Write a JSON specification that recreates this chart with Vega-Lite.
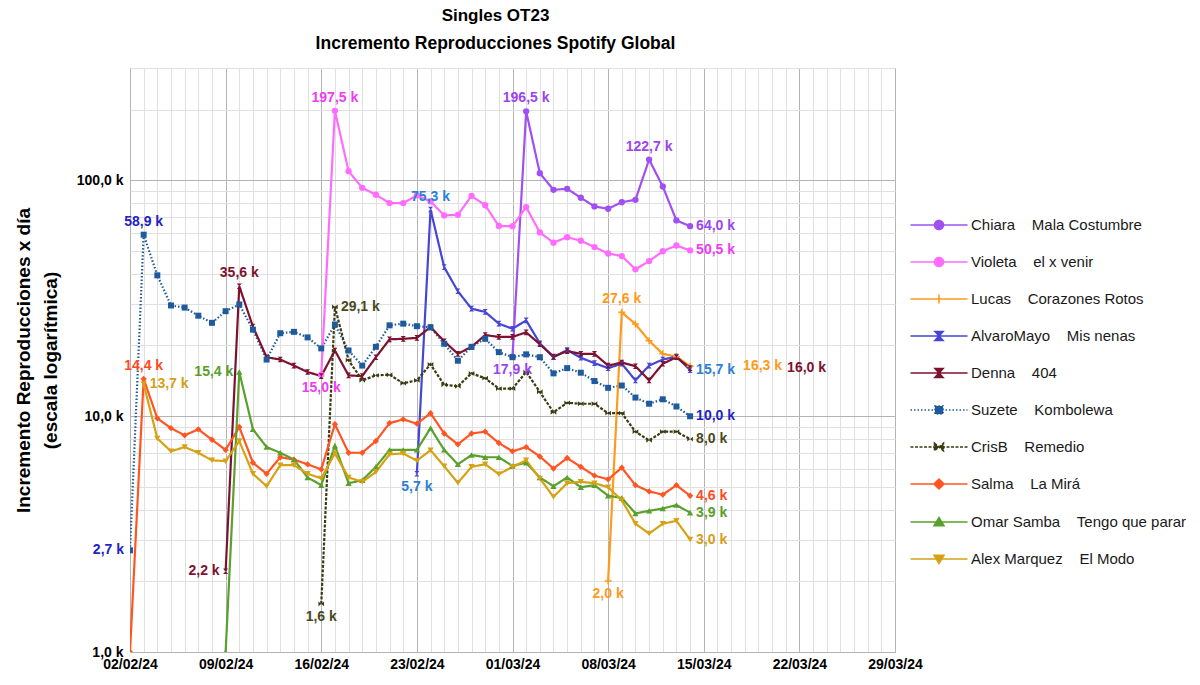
{
  "$schema": "https://vega.github.io/schema/vega-lite/v6.json",
  "width": 765,
  "height": 584,
  "autosize": {"type": "none"},
  "padding": {"left": 130, "top": 68, "right": 305, "bottom": 33},
  "background": "white",
  "config": {"view": {"stroke": "#b3b3b3"}},
  "title": {
    "text": "Singles OT23",
    "subtitle": "Incremento Reproducciones Spotify Global",
    "font": "Liberation Sans", "fontSize": 17, "fontWeight": "bold", "color": "#000000",
    "subtitleFont": "Liberation Sans", "subtitleFontSize": 17.5, "subtitleFontWeight": "bold", "subtitleColor": "#000000",
    "anchor": "middle", "dx": -17, "offset": 8, "subtitlePadding": 10
  },
  "datasets": {
    "lines": [
      {"date":"2024-02-02","series":"Suzete","value":2.7},{"date":"2024-02-03","series":"Suzete","value":58.9},{"date":"2024-02-04","series":"Suzete","value":39.6},{"date":"2024-02-05","series":"Suzete","value":29.5},{"date":"2024-02-06","series":"Suzete","value":28.9},{"date":"2024-02-07","series":"Suzete","value":26.7},{"date":"2024-02-08","series":"Suzete","value":24.9},{"date":"2024-02-09","series":"Suzete","value":27.9},{"date":"2024-02-10","series":"Suzete","value":29.8},{"date":"2024-02-11","series":"Suzete","value":23.3},{"date":"2024-02-12","series":"Suzete","value":17.4},{"date":"2024-02-13","series":"Suzete","value":22.5},{"date":"2024-02-14","series":"Suzete","value":22.8},{"date":"2024-02-15","series":"Suzete","value":21.6},{"date":"2024-02-16","series":"Suzete","value":19.4},{"date":"2024-02-17","series":"Suzete","value":24.5},{"date":"2024-02-18","series":"Suzete","value":19.0},{"date":"2024-02-19","series":"Suzete","value":16.4},{"date":"2024-02-20","series":"Suzete","value":19.7},{"date":"2024-02-21","series":"Suzete","value":24.3},{"date":"2024-02-22","series":"Suzete","value":24.7},{"date":"2024-02-23","series":"Suzete","value":24.1},{"date":"2024-02-24","series":"Suzete","value":23.8},{"date":"2024-02-25","series":"Suzete","value":20.3},{"date":"2024-02-26","series":"Suzete","value":17.2},{"date":"2024-02-27","series":"Suzete","value":19.7},{"date":"2024-02-28","series":"Suzete","value":21.3},{"date":"2024-02-29","series":"Suzete","value":18.7},{"date":"2024-03-01","series":"Suzete","value":17.8},{"date":"2024-03-02","series":"Suzete","value":18.3},{"date":"2024-03-03","series":"Suzete","value":17.8},{"date":"2024-03-04","series":"Suzete","value":15.2},{"date":"2024-03-05","series":"Suzete","value":16.0},{"date":"2024-03-06","series":"Suzete","value":15.3},{"date":"2024-03-07","series":"Suzete","value":14.1},{"date":"2024-03-08","series":"Suzete","value":13.2},{"date":"2024-03-09","series":"Suzete","value":13.5},{"date":"2024-03-10","series":"Suzete","value":12.0},{"date":"2024-03-11","series":"Suzete","value":11.3},{"date":"2024-03-12","series":"Suzete","value":11.8},{"date":"2024-03-13","series":"Suzete","value":11.0},{"date":"2024-03-14","series":"Suzete","value":10.0},
      {"date":"2024-03-01","series":"Chiara","value":17.9},{"date":"2024-03-02","series":"Chiara","value":196.5},{"date":"2024-03-03","series":"Chiara","value":107.4},{"date":"2024-03-04","series":"Chiara","value":91.3},{"date":"2024-03-05","series":"Chiara","value":92.2},{"date":"2024-03-06","series":"Chiara","value":84.5},{"date":"2024-03-07","series":"Chiara","value":77.6},{"date":"2024-03-08","series":"Chiara","value":75.9},{"date":"2024-03-09","series":"Chiara","value":80.9},{"date":"2024-03-10","series":"Chiara","value":82.8},{"date":"2024-03-11","series":"Chiara","value":122.7},{"date":"2024-03-12","series":"Chiara","value":94.3},{"date":"2024-03-13","series":"Chiara","value":67.7},{"date":"2024-03-14","series":"Chiara","value":64.0},
      {"date":"2024-02-16","series":"Violeta","value":15.0},{"date":"2024-02-17","series":"Violeta","value":197.5},{"date":"2024-02-18","series":"Violeta","value":109.5},{"date":"2024-02-19","series":"Violeta","value":93.1},{"date":"2024-02-20","series":"Violeta","value":87.0},{"date":"2024-02-21","series":"Violeta","value":80.2},{"date":"2024-02-22","series":"Violeta","value":80.2},{"date":"2024-02-23","series":"Violeta","value":86.4},{"date":"2024-02-24","series":"Violeta","value":81.5},{"date":"2024-02-25","series":"Violeta","value":71.1},{"date":"2024-02-26","series":"Violeta","value":71.5},{"date":"2024-02-27","series":"Violeta","value":86.0},{"date":"2024-02-28","series":"Violeta","value":78.5},{"date":"2024-02-29","series":"Violeta","value":64.1},{"date":"2024-03-01","series":"Violeta","value":64.0},{"date":"2024-03-02","series":"Violeta","value":77.1},{"date":"2024-03-03","series":"Violeta","value":60.2},{"date":"2024-03-04","series":"Violeta","value":54.5},{"date":"2024-03-05","series":"Violeta","value":57.5},{"date":"2024-03-06","series":"Violeta","value":55.5},{"date":"2024-03-07","series":"Violeta","value":52.2},{"date":"2024-03-08","series":"Violeta","value":49.0},{"date":"2024-03-09","series":"Violeta","value":47.8},{"date":"2024-03-10","series":"Violeta","value":42.0},{"date":"2024-03-11","series":"Violeta","value":45.5},{"date":"2024-03-12","series":"Violeta","value":50.1},{"date":"2024-03-13","series":"Violeta","value":53.0},{"date":"2024-03-14","series":"Violeta","value":50.5},
      {"date":"2024-03-08","series":"Lucas","value":2.0},{"date":"2024-03-09","series":"Lucas","value":27.6},{"date":"2024-03-10","series":"Lucas","value":24.6},{"date":"2024-03-11","series":"Lucas","value":20.9},{"date":"2024-03-12","series":"Lucas","value":18.4},{"date":"2024-03-13","series":"Lucas","value":17.9},{"date":"2024-03-14","series":"Lucas","value":16.3},
      {"date":"2024-02-23","series":"AlvaroMayo","value":5.7},{"date":"2024-02-24","series":"AlvaroMayo","value":75.3},{"date":"2024-02-25","series":"AlvaroMayo","value":42.9},{"date":"2024-02-26","series":"AlvaroMayo","value":33.9},{"date":"2024-02-27","series":"AlvaroMayo","value":28.6},{"date":"2024-02-28","series":"AlvaroMayo","value":27.7},{"date":"2024-02-29","series":"AlvaroMayo","value":24.7},{"date":"2024-03-01","series":"AlvaroMayo","value":23.5},{"date":"2024-03-02","series":"AlvaroMayo","value":25.5},{"date":"2024-03-03","series":"AlvaroMayo","value":20.4},{"date":"2024-03-04","series":"AlvaroMayo","value":17.8},{"date":"2024-03-05","series":"AlvaroMayo","value":19.1},{"date":"2024-03-06","series":"AlvaroMayo","value":17.7},{"date":"2024-03-07","series":"AlvaroMayo","value":16.8},{"date":"2024-03-08","series":"AlvaroMayo","value":16.0},{"date":"2024-03-09","series":"AlvaroMayo","value":16.7},{"date":"2024-03-10","series":"AlvaroMayo","value":14.2},{"date":"2024-03-11","series":"AlvaroMayo","value":16.4},{"date":"2024-03-12","series":"AlvaroMayo","value":17.4},{"date":"2024-03-13","series":"AlvaroMayo","value":17.9},{"date":"2024-03-14","series":"AlvaroMayo","value":15.7},
      {"date":"2024-02-09","series":"Denna","value":2.2},{"date":"2024-02-10","series":"Denna","value":35.6},{"date":"2024-02-11","series":"Denna","value":24.0},{"date":"2024-02-12","series":"Denna","value":17.8},{"date":"2024-02-13","series":"Denna","value":17.4},{"date":"2024-02-14","series":"Denna","value":16.4},{"date":"2024-02-15","series":"Denna","value":15.4},{"date":"2024-02-16","series":"Denna","value":14.8},{"date":"2024-02-17","series":"Denna","value":19.0},{"date":"2024-02-18","series":"Denna","value":14.9},{"date":"2024-02-19","series":"Denna","value":14.8},{"date":"2024-02-20","series":"Denna","value":17.8},{"date":"2024-02-21","series":"Denna","value":21.2},{"date":"2024-02-22","series":"Denna","value":21.3},{"date":"2024-02-23","series":"Denna","value":21.5},{"date":"2024-02-24","series":"Denna","value":23.9},{"date":"2024-02-25","series":"Denna","value":20.8},{"date":"2024-02-26","series":"Denna","value":18.4},{"date":"2024-02-27","series":"Denna","value":19.7},{"date":"2024-02-28","series":"Denna","value":22.1},{"date":"2024-02-29","series":"Denna","value":21.7},{"date":"2024-03-01","series":"Denna","value":21.7},{"date":"2024-03-02","series":"Denna","value":22.7},{"date":"2024-03-03","series":"Denna","value":20.2},{"date":"2024-03-04","series":"Denna","value":17.9},{"date":"2024-03-05","series":"Denna","value":18.9},{"date":"2024-03-06","series":"Denna","value":18.4},{"date":"2024-03-07","series":"Denna","value":18.4},{"date":"2024-03-08","series":"Denna","value":16.4},{"date":"2024-03-09","series":"Denna","value":16.9},{"date":"2024-03-10","series":"Denna","value":16.3},{"date":"2024-03-11","series":"Denna","value":14.2},{"date":"2024-03-12","series":"Denna","value":16.7},{"date":"2024-03-13","series":"Denna","value":17.8},{"date":"2024-03-14","series":"Denna","value":16.0},
      {"date":"2024-02-16","series":"CrisB","value":1.6},{"date":"2024-02-17","series":"CrisB","value":29.1},{"date":"2024-02-18","series":"CrisB","value":17.3},{"date":"2024-02-19","series":"CrisB","value":14.2},{"date":"2024-02-20","series":"CrisB","value":14.9},{"date":"2024-02-21","series":"CrisB","value":15.0},{"date":"2024-02-22","series":"CrisB","value":13.8},{"date":"2024-02-23","series":"CrisB","value":14.2},{"date":"2024-02-24","series":"CrisB","value":16.6},{"date":"2024-02-25","series":"CrisB","value":13.6},{"date":"2024-02-26","series":"CrisB","value":13.4},{"date":"2024-02-27","series":"CrisB","value":15.2},{"date":"2024-02-28","series":"CrisB","value":14.5},{"date":"2024-02-29","series":"CrisB","value":13.1},{"date":"2024-03-01","series":"CrisB","value":13.1},{"date":"2024-03-02","series":"CrisB","value":15.4},{"date":"2024-03-03","series":"CrisB","value":12.7},{"date":"2024-03-04","series":"CrisB","value":10.4},{"date":"2024-03-05","series":"CrisB","value":11.4},{"date":"2024-03-06","series":"CrisB","value":11.3},{"date":"2024-03-07","series":"CrisB","value":11.3},{"date":"2024-03-08","series":"CrisB","value":10.3},{"date":"2024-03-09","series":"CrisB","value":10.3},{"date":"2024-03-10","series":"CrisB","value":8.6},{"date":"2024-03-11","series":"CrisB","value":7.9},{"date":"2024-03-12","series":"CrisB","value":8.6},{"date":"2024-03-13","series":"CrisB","value":8.6},{"date":"2024-03-14","series":"CrisB","value":8.0},
      {"date":"2024-02-02","series":"Salma","value":1.0},{"date":"2024-02-03","series":"Salma","value":14.4},{"date":"2024-02-04","series":"Salma","value":9.8},{"date":"2024-02-05","series":"Salma","value":8.9},{"date":"2024-02-06","series":"Salma","value":8.3},{"date":"2024-02-07","series":"Salma","value":8.8},{"date":"2024-02-08","series":"Salma","value":7.95},{"date":"2024-02-09","series":"Salma","value":7.2},{"date":"2024-02-10","series":"Salma","value":9.0},{"date":"2024-02-11","series":"Salma","value":6.35},{"date":"2024-02-12","series":"Salma","value":5.7},{"date":"2024-02-13","series":"Salma","value":6.7},{"date":"2024-02-14","series":"Salma","value":6.55},{"date":"2024-02-15","series":"Salma","value":6.25},{"date":"2024-02-16","series":"Salma","value":5.95},{"date":"2024-02-17","series":"Salma","value":9.25},{"date":"2024-02-18","series":"Salma","value":7.0},{"date":"2024-02-19","series":"Salma","value":7.0},{"date":"2024-02-20","series":"Salma","value":7.85},{"date":"2024-02-21","series":"Salma","value":9.35},{"date":"2024-02-22","series":"Salma","value":9.7},{"date":"2024-02-23","series":"Salma","value":9.3},{"date":"2024-02-24","series":"Salma","value":10.3},{"date":"2024-02-25","series":"Salma","value":8.45},{"date":"2024-02-26","series":"Salma","value":7.6},{"date":"2024-02-27","series":"Salma","value":8.45},{"date":"2024-02-28","series":"Salma","value":8.6},{"date":"2024-02-29","series":"Salma","value":7.7},{"date":"2024-03-01","series":"Salma","value":7.1},{"date":"2024-03-02","series":"Salma","value":7.4},{"date":"2024-03-03","series":"Salma","value":6.75},{"date":"2024-03-04","series":"Salma","value":6.0},{"date":"2024-03-05","series":"Salma","value":6.65},{"date":"2024-03-06","series":"Salma","value":6.1},{"date":"2024-03-07","series":"Salma","value":5.6},{"date":"2024-03-08","series":"Salma","value":5.4},{"date":"2024-03-09","series":"Salma","value":6.05},{"date":"2024-03-10","series":"Salma","value":5.1},{"date":"2024-03-11","series":"Salma","value":4.8},{"date":"2024-03-12","series":"Salma","value":4.65},{"date":"2024-03-13","series":"Salma","value":5.1},{"date":"2024-03-14","series":"Salma","value":4.6},
      {"date":"2024-02-09","series":"Omar Samba","value":1.0},{"date":"2024-02-10","series":"Omar Samba","value":15.4},{"date":"2024-02-11","series":"Omar Samba","value":8.8},{"date":"2024-02-12","series":"Omar Samba","value":7.4},{"date":"2024-02-13","series":"Omar Samba","value":7.0},{"date":"2024-02-14","series":"Omar Samba","value":6.55},{"date":"2024-02-15","series":"Omar Samba","value":5.5},{"date":"2024-02-16","series":"Omar Samba","value":5.1},{"date":"2024-02-17","series":"Omar Samba","value":7.5},{"date":"2024-02-18","series":"Omar Samba","value":5.2},{"date":"2024-02-19","series":"Omar Samba","value":5.35},{"date":"2024-02-20","series":"Omar Samba","value":6.1},{"date":"2024-02-21","series":"Omar Samba","value":7.2},{"date":"2024-02-22","series":"Omar Samba","value":7.2},{"date":"2024-02-23","series":"Omar Samba","value":7.2},{"date":"2024-02-24","series":"Omar Samba","value":8.9},{"date":"2024-02-25","series":"Omar Samba","value":7.2},{"date":"2024-02-26","series":"Omar Samba","value":6.25},{"date":"2024-02-27","series":"Omar Samba","value":6.85},{"date":"2024-02-28","series":"Omar Samba","value":6.7},{"date":"2024-02-29","series":"Omar Samba","value":6.7},{"date":"2024-03-01","series":"Omar Samba","value":6.15},{"date":"2024-03-02","series":"Omar Samba","value":6.35},{"date":"2024-03-03","series":"Omar Samba","value":5.5},{"date":"2024-03-04","series":"Omar Samba","value":5.05},{"date":"2024-03-05","series":"Omar Samba","value":5.5},{"date":"2024-03-06","series":"Omar Samba","value":5.0},{"date":"2024-03-07","series":"Omar Samba","value":5.1},{"date":"2024-03-08","series":"Omar Samba","value":4.6},{"date":"2024-03-09","series":"Omar Samba","value":4.5},{"date":"2024-03-10","series":"Omar Samba","value":3.87},{"date":"2024-03-11","series":"Omar Samba","value":3.97},{"date":"2024-03-12","series":"Omar Samba","value":4.06},{"date":"2024-03-13","series":"Omar Samba","value":4.2},{"date":"2024-03-14","series":"Omar Samba","value":3.9},
      {"date":"2024-02-03","series":"Alex Marquez","value":13.7},{"date":"2024-02-04","series":"Alex Marquez","value":8.05},{"date":"2024-02-05","series":"Alex Marquez","value":7.1},{"date":"2024-02-06","series":"Alex Marquez","value":7.4},{"date":"2024-02-07","series":"Alex Marquez","value":7.0},{"date":"2024-02-08","series":"Alex Marquez","value":6.5},{"date":"2024-02-09","series":"Alex Marquez","value":6.45},{"date":"2024-02-10","series":"Alex Marquez","value":7.85},{"date":"2024-02-11","series":"Alex Marquez","value":5.7},{"date":"2024-02-12","series":"Alex Marquez","value":5.05},{"date":"2024-02-13","series":"Alex Marquez","value":6.2},{"date":"2024-02-14","series":"Alex Marquez","value":6.2},{"date":"2024-02-15","series":"Alex Marquez","value":5.7},{"date":"2024-02-16","series":"Alex Marquez","value":5.45},{"date":"2024-02-17","series":"Alex Marquez","value":6.95},{"date":"2024-02-18","series":"Alex Marquez","value":5.5},{"date":"2024-02-19","series":"Alex Marquez","value":5.27},{"date":"2024-02-20","series":"Alex Marquez","value":5.8},{"date":"2024-02-21","series":"Alex Marquez","value":6.9},{"date":"2024-02-22","series":"Alex Marquez","value":6.95},{"date":"2024-02-23","series":"Alex Marquez","value":6.48},{"date":"2024-02-24","series":"Alex Marquez","value":7.18},{"date":"2024-02-25","series":"Alex Marquez","value":6.14},{"date":"2024-02-26","series":"Alex Marquez","value":5.22},{"date":"2024-02-27","series":"Alex Marquez","value":6.1},{"date":"2024-02-28","series":"Alex Marquez","value":6.26},{"date":"2024-02-29","series":"Alex Marquez","value":5.68},{"date":"2024-03-01","series":"Alex Marquez","value":6.1},{"date":"2024-03-02","series":"Alex Marquez","value":6.5},{"date":"2024-03-03","series":"Alex Marquez","value":5.45},{"date":"2024-03-04","series":"Alex Marquez","value":4.55},{"date":"2024-03-05","series":"Alex Marquez","value":5.2},{"date":"2024-03-06","series":"Alex Marquez","value":5.27},{"date":"2024-03-07","series":"Alex Marquez","value":5.2},{"date":"2024-03-08","series":"Alex Marquez","value":5.0},{"date":"2024-03-09","series":"Alex Marquez","value":4.4},{"date":"2024-03-10","series":"Alex Marquez","value":3.5},{"date":"2024-03-11","series":"Alex Marquez","value":3.18},{"date":"2024-03-12","series":"Alex Marquez","value":3.5},{"date":"2024-03-13","series":"Alex Marquez","value":3.6},{"date":"2024-03-14","series":"Alex Marquez","value":3.0}
    ],
    "above": [
      {"date":"2024-02-03","series":"Suzete","value":58.9},{"date":"2024-02-03","series":"Salma","value":14.4},{"date":"2024-02-10","series":"Denna","value":35.6},{"date":"2024-02-17","series":"Violeta","value":197.5},{"date":"2024-02-24","series":"AlvaroMayo","value":75.3},{"date":"2024-03-02","series":"Chiara","value":196.5},{"date":"2024-03-11","series":"Chiara","value":122.7},{"date":"2024-03-09","series":"Lucas","value":27.6}
    ],
    "below": [
      {"date":"2024-02-16","series":"Violeta","value":15.0},{"date":"2024-02-16","series":"CrisB","value":1.6},{"date":"2024-02-23","series":"AlvaroMayo","value":5.7},{"date":"2024-03-01","series":"Chiara","value":17.9},{"date":"2024-03-08","series":"Lucas","value":2.0}
    ],
    "left": [
      {"date":"2024-02-02","series":"Suzete","value":2.7},{"date":"2024-02-09","series":"Denna","value":2.2},{"date":"2024-02-10","series":"Omar Samba","value":15.4}
    ],
    "right": [
      {"date":"2024-02-03","series":"Alex Marquez","value":13.7},{"date":"2024-02-17","series":"CrisB","value":29.1},{"date":"2024-03-14","series":"Chiara","value":64.0},{"date":"2024-03-14","series":"Violeta","value":50.5},{"date":"2024-03-14","series":"AlvaroMayo","value":15.7},{"date":"2024-03-14","series":"Suzete","value":10.0},{"date":"2024-03-14","series":"CrisB","value":8.0},{"date":"2024-03-14","series":"Salma","value":4.6},{"date":"2024-03-14","series":"Omar Samba","value":3.9},{"date":"2024-03-14","series":"Alex Marquez","value":3.0}
    ],
    "right2": [{"date":"2024-03-14","series":"Lucas","value":16.3}],
    "right3": [{"date":"2024-03-14","series":"Denna","value":16.0}]
  },
  "encoding": {
    "x": {
      "field": "date", "type": "temporal",
      "scale": {"type": "utc", "nice": false, "domain": [{"year": 2024, "month": 2, "date": 2, "utc": true}, {"year": 2024, "month": 3, "date": 29, "utc": true}]},
      "axis": {
        "title": null,
        "tickCount": {"interval": "day", "step": 1},
        "labelExpr": "((datum.value - 1706832000000) / 86400000) % 7 == 0 ? utcFormat(datum.value, '%d/%m/%y') : ''",
        "grid": true,
        "gridColor": {"condition": {"test": "((datum.value - 1706832000000) / 86400000) % 7 == 0", "value": "#b4b4b4"}, "value": "#e0e0e0"},
        "ticks": false, "domain": false,
        "labelFont": "Liberation Sans", "labelFontSize": 14, "labelFontWeight": "bold", "labelColor": "#000000",
        "labelPadding": 5, "labelOverlap": false, "labelFlush": false, "labelBound": false
      }
    },
    "y": {
      "field": "value", "type": "quantitative",
      "scale": {"type": "log", "domain": [1, 300], "nice": false},
      "axis": {
        "title": ["Incremento Reproducciones x día", "(escala logarítmica)"],
        "values": [1,2,3,4,5,6,7,8,9,10,20,30,40,50,60,70,80,90,100,200,300],
        "labelExpr": "datum.value == 1 || datum.value == 10 || datum.value == 100 ? replace(format(datum.value, '.1f'), '.', ',') + ' k' : ''",
        "grid": true,
        "gridColor": {"condition": {"test": "datum.value == 1 || datum.value == 10 || datum.value == 100", "value": "#b4b4b4"}, "value": "#e0e0e0"},
        "ticks": false, "domain": false,
        "labelFont": "Liberation Sans", "labelFontSize": 14, "labelFontWeight": "bold", "labelColor": "#000000", "labelPadding": 7, "labelOverlap": false,
        "titleFont": "Liberation Sans", "titleFontSize": 19, "titleFontWeight": "bold", "titleColor": "#000000", "titlePadding": 16, "titleLineHeight": 27
      }
    }
  },
  "layer": [
    {
      "data": {"name": "lines"},
      "mark": {"type": "line", "strokeWidth": 2.2, "clip": true},
      "encoding": {
        "color": {
          "field": "series", "type": "nominal",
          "scale": {
            "domain": ["Chiara", "Violeta", "Lucas", "AlvaroMayo", "Denna", "Suzete", "CrisB", "Salma", "Omar Samba", "Alex Marquez"],
            "range": ["#a050f0", "#ff6cff", "#ff9a1a", "#4646d6", "#7d1230", "#1f5a9c", "#3b3b12", "#ff5522", "#5aa02c", "#d6a214"]
          },
          "legend": {
            "title": null, "orient": "none", "legendX": 793, "legendY": 141, "direction": "vertical", "columns": 1,
            "padding": 0, "symbolSize": 900, "symbolStrokeWidth": 1.6, "labelOffset": 16, "rowPadding": 13,
            "labelFont": "Liberation Sans", "labelFontSize": 15, "labelColor": "#1a1a1a", "labelLimit": 400,
            "labelExpr": "{'Chiara': 'Chiara\u00a0\u00a0\u00a0\u00a0Mala Costumbre', 'Violeta': 'Violeta\u00a0\u00a0\u00a0\u00a0el x venir', 'Lucas': 'Lucas\u00a0\u00a0\u00a0\u00a0Corazones Rotos', 'AlvaroMayo': 'AlvaroMayo\u00a0\u00a0\u00a0\u00a0Mis nenas', 'Denna': 'Denna\u00a0\u00a0\u00a0\u00a0404', 'Suzete': 'Suzete\u00a0\u00a0\u00a0\u00a0Kombolewa', 'CrisB': 'CrisB\u00a0\u00a0\u00a0\u00a0Remedio', 'Salma': 'Salma\u00a0\u00a0\u00a0\u00a0La Mirá', 'Omar Samba': 'Omar Samba\u00a0\u00a0\u00a0\u00a0Tengo que parar', 'Alex Marquez': 'Alex Marquez\u00a0\u00a0\u00a0\u00a0El Modo'}[datum.label]"
          }
        },
        "strokeDash": {
          "field": "series", "type": "nominal",
          "scale": {
            "domain": ["Chiara", "Violeta", "Lucas", "AlvaroMayo", "Denna", "Suzete", "CrisB", "Salma", "Omar Samba", "Alex Marquez"],
            "range": [[1, 0], [1, 0], [1, 0], [1, 0], [1, 0], [1.5, 2], [3, 1.5], [1, 0], [1, 0], [1, 0]]
          },
          "legend": {"title": null}
        }
      }
    },
    {
      "data": {"name": "lines"},
      "transform": [{"filter": "false"}],
      "mark": {"type": "point", "filled": true, "opacity": 1},
      "encoding": {
        "color": {"field": "series", "type": "nominal"},
        "stroke": {
          "field": "series", "type": "nominal",
          "scale": {
            "domain": ["Chiara", "Violeta", "Lucas", "AlvaroMayo", "Denna", "Suzete", "CrisB", "Salma", "Omar Samba", "Alex Marquez"],
            "range": ["#a050f0", "#ff6cff", "#ff9a1a", "#4646d6", "#7d1230", "#1f5a9c", "#3b3b12", "#ff5522", "#5aa02c", "#d6a214"]
          },
          "legend": {"title": null}
        },
        "shape": {
          "field": "series", "type": "nominal",
          "scale": {
            "domain": ["Chiara", "Violeta", "Lucas", "AlvaroMayo", "Denna", "Suzete", "CrisB", "Salma", "Omar Samba", "Alex Marquez"],
            "range": ["M-1.9,0H1.9M0.3,0A0.3,0.3,0,1,1,-0.3,0A0.3,0.3,0,1,1,0.3,0Z", "M-1.9,0H1.9M0.3,0A0.3,0.3,0,1,1,-0.3,0A0.3,0.3,0,1,1,0.3,0Z", "M-1.9,0H1.9M0,-0.3V0.3", "M-1.9,0H1.9M-0.27,-0.3H0.27L-0.27,0.3H0.27Z", "M-1.9,0H1.9M-0.27,-0.3H0.27L-0.27,0.3H0.27Z", "M-1.9,0H1.9M-0.27,-0.27H0.27V0.27H-0.27Z", "M-1.9,0H1.9M-0.3,-0.25L0.3,0.25V-0.25L-0.3,0.25Z", "M-1.9,0H1.9M0,-0.33L0.33,0L0,0.33L-0.33,0Z", "M-1.9,0H1.9M0,-0.3L0.33,0.25H-0.33Z", "M-1.9,0H1.9M0,0.3L0.33,-0.25H-0.33Z"]
          },
          "legend": {"title": null}
        },
        "strokeDash": {"field": "series", "type": "nominal"}
      }
    },
    {
      "data": {"name": "lines"},
      "transform": [{"filter": {"field": "series", "oneOf": ["Chiara", "Violeta"]}}],
      "mark": {"type": "point", "shape": "circle", "filled": true, "size": 40, "opacity": 1, "clip": true},
      "encoding": {"color": {"field": "series", "type": "nominal"}}
    },
    {
      "data": {"name": "lines"},
      "transform": [{"filter": {"field": "series", "oneOf": ["Lucas"]}}],
      "mark": {"type": "point", "shape": "M-1,0H1M0,-1V1", "filled": false, "size": 50, "strokeWidth": 1.5, "opacity": 1, "clip": true},
      "encoding": {"color": {"field": "series", "type": "nominal"}}
    },
    {
      "data": {"name": "lines"},
      "transform": [{"filter": {"field": "series", "oneOf": ["AlvaroMayo", "Denna"]}}],
      "mark": {"type": "point", "shape": "M-0.9,-1H0.9L-0.9,1H0.9Z", "filled": true, "size": 32, "opacity": 1, "clip": true},
      "encoding": {"color": {"field": "series", "type": "nominal"}}
    },
    {
      "data": {"name": "lines"},
      "transform": [{"filter": {"field": "series", "oneOf": ["Suzete"]}}],
      "mark": {"type": "point", "shape": "square", "filled": true, "size": 36, "opacity": 1, "clip": true},
      "encoding": {"color": {"field": "series", "type": "nominal"}}
    },
    {
      "data": {"name": "lines"},
      "transform": [{"filter": {"field": "series", "oneOf": ["CrisB"]}}],
      "mark": {"type": "point", "shape": "M-1,-0.85L1,0.85V-0.85L-1,0.85Z", "filled": true, "size": 32, "opacity": 1, "clip": true},
      "encoding": {"color": {"field": "series", "type": "nominal"}}
    },
    {
      "data": {"name": "lines"},
      "transform": [{"filter": {"field": "series", "oneOf": ["Salma"]}}],
      "mark": {"type": "point", "shape": "diamond", "filled": true, "size": 40, "opacity": 1, "clip": true},
      "encoding": {"color": {"field": "series", "type": "nominal"}}
    },
    {
      "data": {"name": "lines"},
      "transform": [{"filter": {"field": "series", "oneOf": ["Omar Samba"]}}],
      "mark": {"type": "point", "shape": "triangle-up", "filled": true, "size": 40, "opacity": 1, "clip": true},
      "encoding": {"color": {"field": "series", "type": "nominal"}}
    },
    {
      "data": {"name": "lines"},
      "transform": [{"filter": {"field": "series", "oneOf": ["Alex Marquez"]}}],
      "mark": {"type": "point", "shape": "triangle-down", "filled": true, "size": 40, "opacity": 1, "clip": true},
      "encoding": {"color": {"field": "series", "type": "nominal"}}
    },
    {
      "data": {"name": "above"},
      "transform": [{"calculate": "replace(format(datum.value, '.1f'), '.', ',') + ' k'", "as": "label"}],
      "mark": {"type": "text", "align": "center", "baseline": "bottom", "dy": -6, "font": "Liberation Sans", "fontSize": 14, "fontWeight": "bold"},
      "encoding": {
        "text": {"field": "label", "type": "nominal"},
        "fill": {"field": "series", "type": "nominal", "scale": {"domain": ["Chiara", "Violeta", "Lucas", "AlvaroMayo", "Denna", "Suzete", "CrisB", "Salma", "Omar Samba", "Alex Marquez"], "range": ["#9b45ee", "#f03cf0", "#ff9a1a", "#2c7fd4", "#7d1230", "#2323c4", "#4a4a1e", "#ff4a1f", "#5a9e2a", "#d4a017"]}, "legend": null}
      }
    },
    {
      "data": {"name": "below"},
      "transform": [{"calculate": "replace(format(datum.value, '.1f'), '.', ',') + ' k'", "as": "label"}],
      "mark": {"type": "text", "align": "center", "baseline": "top", "dy": 6, "font": "Liberation Sans", "fontSize": 14, "fontWeight": "bold"},
      "encoding": {
        "text": {"field": "label", "type": "nominal"},
        "fill": {"field": "series", "type": "nominal", "legend": null}
      }
    },
    {
      "data": {"name": "left"},
      "transform": [{"calculate": "replace(format(datum.value, '.1f'), '.', ',') + ' k'", "as": "label"}],
      "mark": {"type": "text", "align": "right", "baseline": "middle", "dx": -6, "font": "Liberation Sans", "fontSize": 14, "fontWeight": "bold"},
      "encoding": {
        "text": {"field": "label", "type": "nominal"},
        "fill": {"field": "series", "type": "nominal", "legend": null}
      }
    },
    {
      "data": {"name": "right"},
      "transform": [{"calculate": "replace(format(datum.value, '.1f'), '.', ',') + ' k'", "as": "label"}],
      "mark": {"type": "text", "align": "left", "baseline": "middle", "dx": 6, "font": "Liberation Sans", "fontSize": 14, "fontWeight": "bold"},
      "encoding": {
        "text": {"field": "label", "type": "nominal"},
        "fill": {"field": "series", "type": "nominal", "legend": null}
      }
    },
    {
      "data": {"name": "right2"},
      "transform": [{"calculate": "replace(format(datum.value, '.1f'), '.', ',') + ' k'", "as": "label"}],
      "mark": {"type": "text", "align": "left", "baseline": "middle", "dx": 53, "font": "Liberation Sans", "fontSize": 14, "fontWeight": "bold"},
      "encoding": {
        "text": {"field": "label", "type": "nominal"},
        "fill": {"field": "series", "type": "nominal", "legend": null}
      }
    },
    {
      "data": {"name": "right3"},
      "transform": [{"calculate": "replace(format(datum.value, '.1f'), '.', ',') + ' k'", "as": "label"}],
      "mark": {"type": "text", "align": "left", "baseline": "middle", "dx": 97, "font": "Liberation Sans", "fontSize": 14, "fontWeight": "bold"},
      "encoding": {
        "text": {"field": "label", "type": "nominal"},
        "fill": {"field": "series", "type": "nominal", "legend": null}
      }
    }
  ]
}
